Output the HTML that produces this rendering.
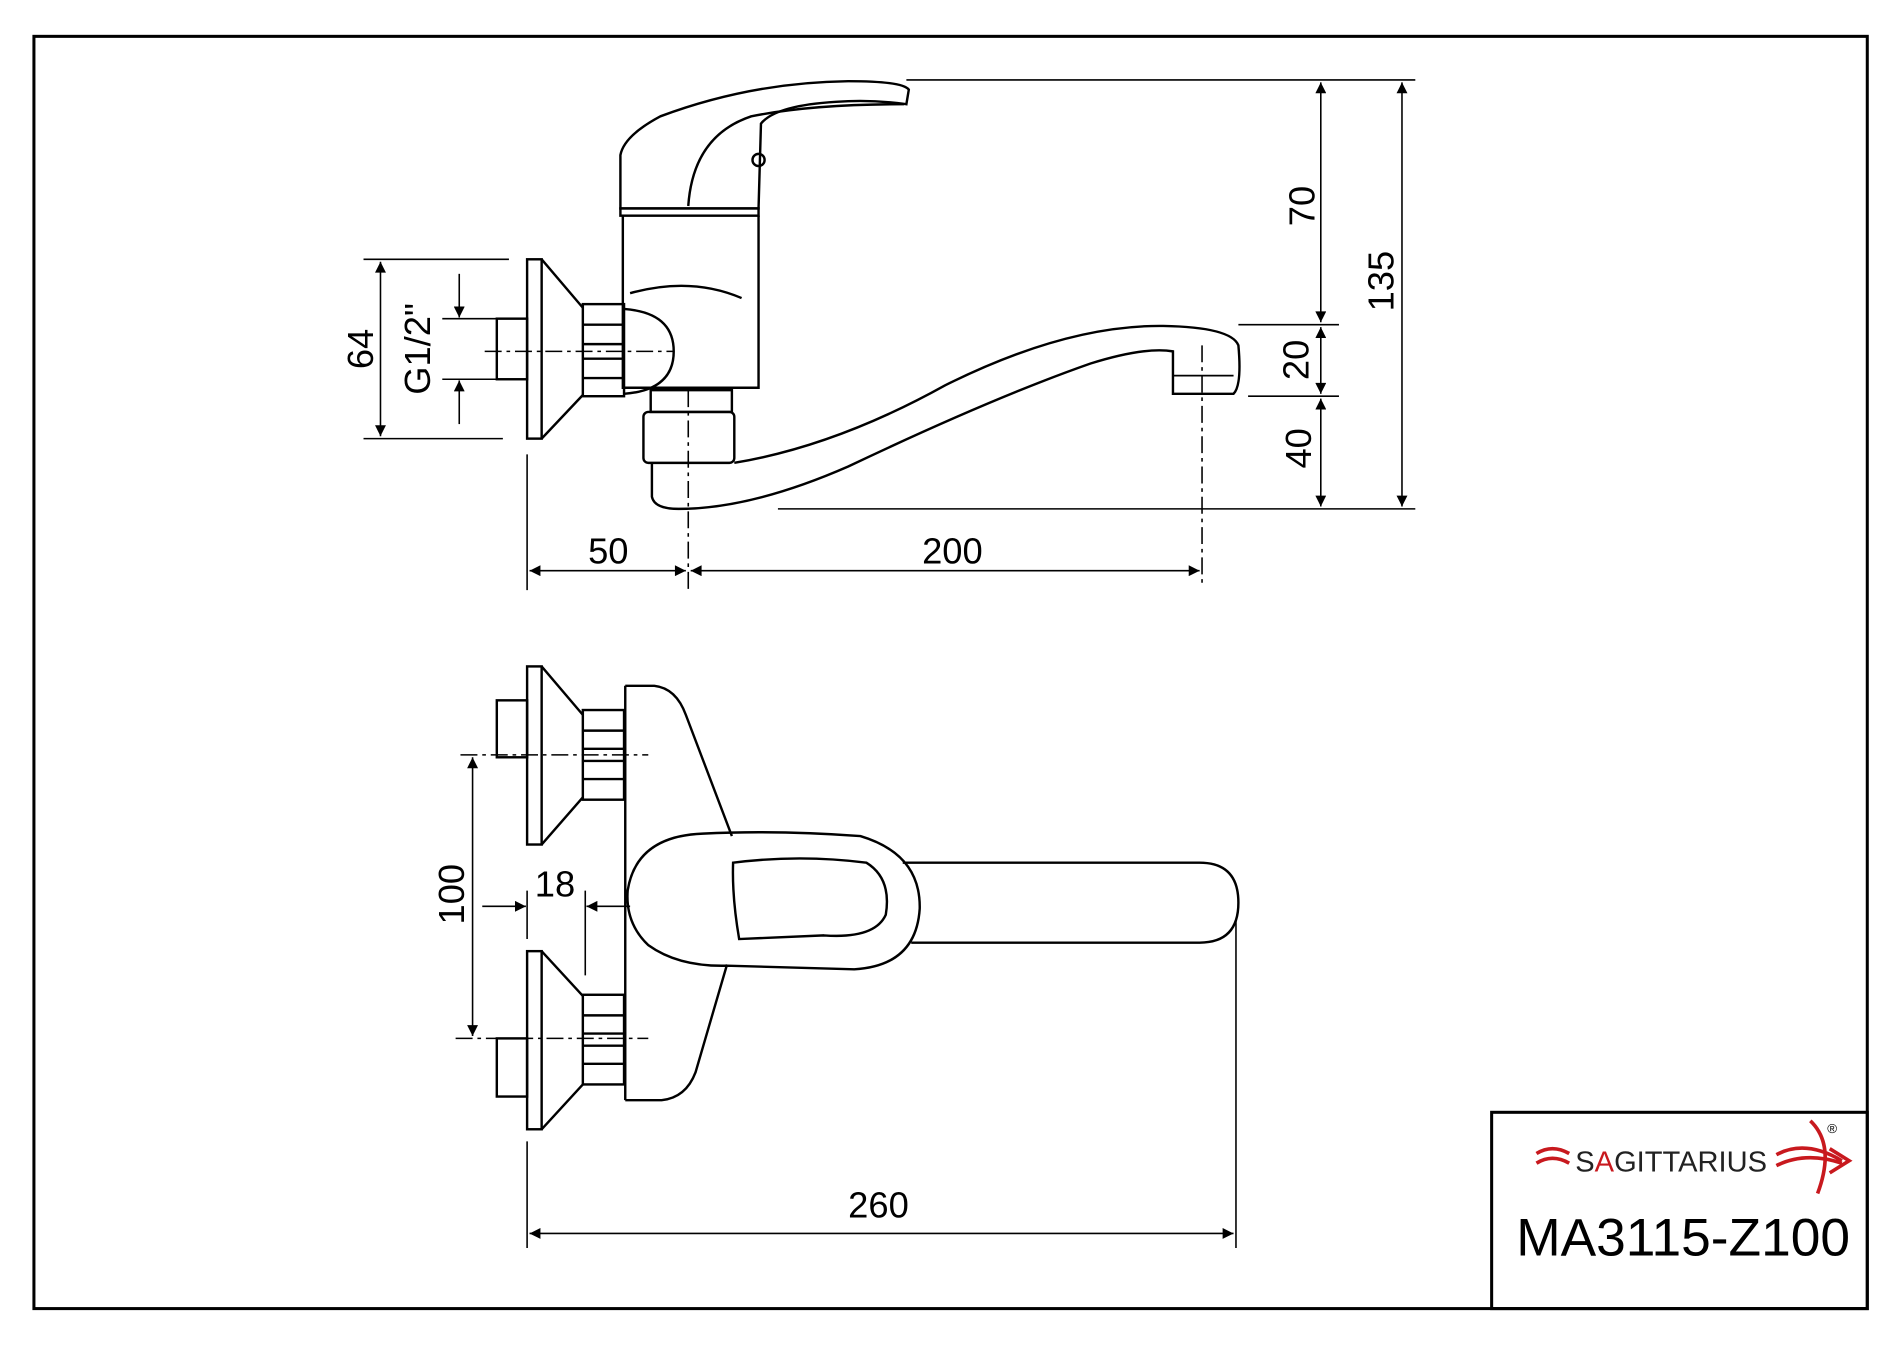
<!DOCTYPE html>
<html><head><meta charset="utf-8"><style>html,body{margin:0;padding:0;background:#fff}svg{display:block}</style></head>
<body>
<svg width="1900" height="1351" viewBox="0 0 1568 1115" preserveAspectRatio="none" xmlns="http://www.w3.org/2000/svg">
<defs>
<marker id="a" viewBox="0 0 10 10" refX="10" refY="5" markerWidth="20" markerHeight="9" markerUnits="userSpaceOnUse" orient="auto-start-reverse"><path d="M0,0 L10,5 L0,10 z" fill="#000"/></marker>
</defs>
<rect width="1568" height="1115" fill="#fff"/>
<g fill="none" stroke="#000" stroke-width="2">
<rect x="28" y="30" width="1513" height="1050" stroke-width="2.5"/>
<rect x="1231" y="918" width="310" height="162" stroke-width="2.5"/>

<!-- top view -->
<path d="M512,172 L512,128 Q515,112 545,96 Q620,68 700,67 Q745,67 750,74 L748,86 Q720,82 690,84 Q640,87 628,102 L626,172 Z"/>
<path d="M568,170 Q572,112 620,96 Q670,86 746,86"/>
<circle cx="626" cy="132" r="5"/>
<rect x="512" y="172" width="114" height="6"/>
<path d="M514,178 L514,320 L626,320 L626,178"/>
<path d="M520,242 Q570,228 612,246"/>
<path d="M515,255 Q556,258 556,290 Q556,322 515,325"/>
<rect x="481" y="251" width="34" height="76"/>
<path d="M481,268 H515 M481,284 H515 M481,296 H515 M481,312 H515"/>
<rect x="435" y="214" width="12" height="148"/>
<path d="M447,214 L481,254 M447,362 L481,326"/>
<rect x="410" y="263" width="25" height="50"/>
<rect x="537" y="322" width="67" height="18"/>
<rect x="531" y="340" width="75" height="42" rx="4"/>
<path d="M538,382 L538,410 Q540,420 560,420 Q620,420 700,385 Q820,328 900,300 Q945,286 968,290 L968,325 L1018,325 Q1025,318 1022,285 Q1016,270 960,269 Q880,268 780,318 Q690,368 606,382"/>
<path d="M968,310 L1018,310" stroke-width="1.5"/>

<g stroke-width="1.3">
<path d="M400,290 H556" stroke-dasharray="14,4,3,4"/>
<path d="M568,322 V487" stroke-dasharray="14,4,3,4"/>
<path d="M992,285 V485" stroke-dasharray="14,4,3,4"/>
<path d="M748,66 H1168 M1022,268 H1105 M1030,327 H1105 M642,420 H1168"/>
<path d="M1090,68 V266" marker-start="url(#a)" marker-end="url(#a)"/>
<path d="M1090,270 V325" marker-start="url(#a)" marker-end="url(#a)"/>
<path d="M1090,329 V418" marker-start="url(#a)" marker-end="url(#a)"/>
<path d="M1157,68 V418" marker-start="url(#a)" marker-end="url(#a)"/>
<path d="M300,214 H420 M300,362 H415"/>
<path d="M314,216 V360" marker-start="url(#a)" marker-end="url(#a)"/>
<path d="M365,263 H410 M365,313 H410"/>
<path d="M379,226 V262" marker-end="url(#a)"/>
<path d="M379,350 V314" marker-end="url(#a)"/>
<path d="M435,375 V487"/>
<path d="M437,471 H566" marker-start="url(#a)" marker-end="url(#a)"/>
<path d="M570,471 H990" marker-start="url(#a)" marker-end="url(#a)"/>
</g>

<!-- bottom view -->
<rect x="435" y="550" width="12" height="147"/>
<path d="M447,550 L481,590 M447,697 L481,658"/>
<rect x="410" y="578" width="25" height="47"/>
<rect x="481" y="586" width="34" height="74"/>
<path d="M481,603 H515 M481,618 H515 M481,628 H515 M481,643 H515"/>
<rect x="435" y="785" width="12" height="147"/>
<path d="M447,785 L481,822 M447,932 L481,895"/>
<rect x="410" y="857" width="25" height="48"/>
<rect x="481" y="821" width="34" height="74"/>
<path d="M481,838 H515 M481,853 H515 M481,863 H515 M481,878 H515"/>
<path d="M516,566 L540,566 Q558,568 566,590 L604,690"/>
<path d="M600,796 L574,885 Q566,906 546,908 L516,908"/>
<path d="M516,566 V908"/>
<path d="M580,688 Q640,685 710,690 Q760,705 759,750 Q756,797 705,800 L600,797 Q560,798 535,780 Q516,762 518,735 Q525,690 580,688 Z"/>
<path d="M605,712 Q660,705 715,712 Q736,725 731,755 Q722,775 680,772 L610,775 Q604,740 605,712 Z"/>
<path d="M745,712 L990,712 Q1022,712 1022,745 Q1022,778 990,778 L752,778"/>

<g stroke-width="1.3">
<path d="M380,623 H535" stroke-dasharray="14,4,3,4"/>
<path d="M376,857 H535" stroke-dasharray="14,4,3,4"/>
<path d="M390,625 V855" marker-start="url(#a)" marker-end="url(#a)"/>
<path d="M435,735 V775 M483,735 V805"/>
<path d="M398,748 H434" marker-end="url(#a)"/>
<path d="M520,748 H484" marker-end="url(#a)"/>
<path d="M435,942 V1030 M1020,760 V1030"/>
<path d="M437,1018 H1018" marker-start="url(#a)" marker-end="url(#a)"/>
</g>
</g>

<g font-family="Liberation Sans, sans-serif" font-size="30" fill="#000" text-anchor="middle">
<text x="502" y="465">50</text>
<text x="786" y="465">200</text>
<text x="725" y="1005">260</text>
<text x="458" y="740">18</text>
<text transform="translate(383,738) rotate(-90)">100</text>
<text transform="translate(1085,170) rotate(-90)">70</text>
<text transform="translate(1080,297) rotate(-90)">20</text>
<text transform="translate(1082,370) rotate(-90)">40</text>
<text transform="translate(1150,232) rotate(-90)">135</text>
<text transform="translate(308,288) rotate(-90)">64</text>
<text transform="translate(355,288) rotate(-90)">G1/2"</text>
</g>

<g>
<path d="M1268,952 Q1281,944 1295,952 M1268,960 Q1281,952 1295,960" stroke="#c8191e" stroke-width="3" fill="none"/>
<text x="1300" y="967" font-family="Liberation Sans, sans-serif" font-size="24" fill="#222">S<tspan fill="#c8191e">A</tspan>GITTARIUS</text>
<path d="M1466,953 Q1490,940 1520,958 M1466,962 Q1490,950 1520,960 M1494,925 Q1515,945 1500,985 M1510,948 L1526,958 L1510,968" stroke="#c8191e" stroke-width="3" fill="none"/>
<text x="1508" y="935" font-family="Liberation Sans, sans-serif" font-size="11" fill="#000">®</text>
<text x="1389" y="1036" font-family="Liberation Sans, sans-serif" font-size="44" fill="#000" text-anchor="middle">MA3115-Z100</text>
</g>
</svg>
</body></html>
